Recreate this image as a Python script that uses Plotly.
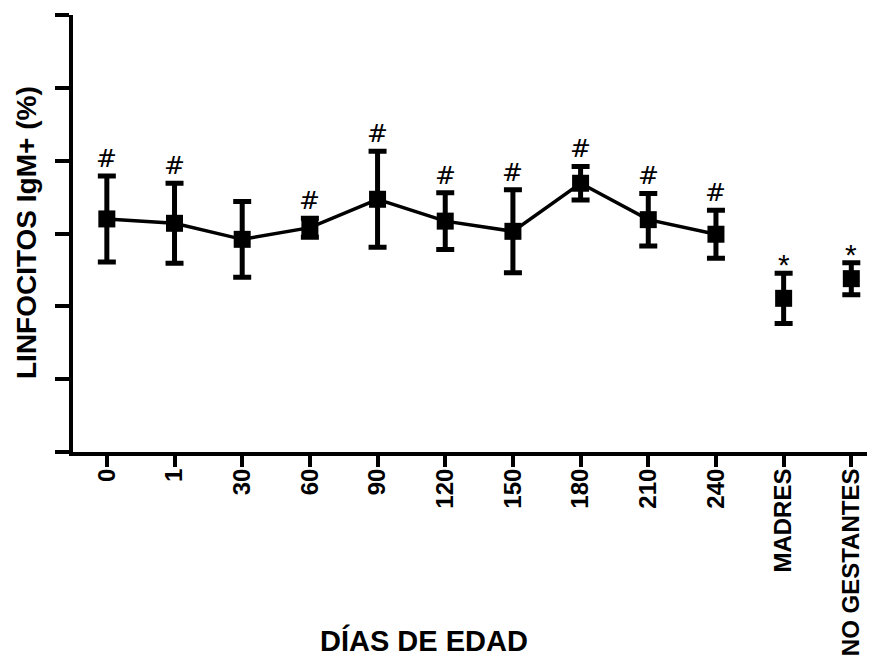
import plotly.graph_objects as go

categories = ["0", "1", "30", "60", "90", "120", "150", "180", "210", "240", "MADRES", "NO GESTANTES"]
means = [32.0, 31.4, 29.2, 30.8, 34.7, 31.7, 30.3, 36.9, 31.9, 29.9, 21.1, 23.8]
errors = [5.9, 5.5, 5.2, 1.3, 6.6, 3.9, 5.7, 2.3, 3.6, 3.3, 3.45, 2.2]
marks = ["#", "#", "", "#", "#", "#", "#", "#", "#", "#", "*", "*"]
n_connected = 10

y_ticks = [0, 10, 20, 30, 40, 50, 60]

FONT = "Liberation Sans, Arial, sans-serif"

fig = go.Figure()
fig.add_trace(go.Scatter(
    x=categories[:n_connected], y=means[:n_connected],
    mode="lines+markers",
    line=dict(color="black", width=3.5),
    marker=dict(symbol="square", size=17, color="black"),
    error_y=dict(type="data", array=errors[:n_connected], visible=True,
                 color="black", thickness=5, width=9),
    showlegend=False,
))
fig.add_trace(go.Scatter(
    x=categories[n_connected:], y=means[n_connected:],
    mode="markers",
    marker=dict(symbol="square", size=17, color="black"),
    error_y=dict(type="data", array=errors[n_connected:], visible=True,
                 color="black", thickness=5, width=9),
    showlegend=False,
))

for i, (m, e, s) in enumerate(zip(means, errors, marks)):
    if not s:
        continue
    fig.add_annotation(
        x=i, y=m + e, text=s, showarrow=False,
        yanchor="bottom", xanchor="center",
        yshift=(1 if s == "#" else -10),
        font=dict(family=("DejaVu Sans" if s == "#" else FONT),
                  size=25 if s == "#" else 30, color="black"),
    )

# axis titles
fig.add_annotation(
    xref="paper", yref="paper", x=(424 - 73) / 802, y=(452 - 640) / 437,
    text="<b>DÍAS DE EDAD</b>", showarrow=False,
    xanchor="center", yanchor="middle",
    font=dict(family=FONT, size=29, color="black"),
)
fig.add_annotation(
    xref="paper", yref="paper", x=(27 - 73) / 802, y=(452 - 233) / 437,
    text="<b>LINFOCITOS IgM+ (%)</b>", showarrow=False, textangle=-90,
    xanchor="center", yanchor="middle",
    font=dict(family=FONT, size=28, color="black"),
)

fig.update_layout(
    width=867, height=654,
    margin=dict(l=65, r=0, t=7, b=210),
    paper_bgcolor="white", plot_bgcolor="white",
    xaxis=dict(
        type="category", categoryorder="array", categoryarray=categories,
        range=[-0.5, 11.35], automargin=False,
        showline=True, linecolor="black", linewidth=4,
        ticks="outside", ticklen=11, tickwidth=4, tickcolor="black",
        tickangle=-90, showgrid=False, zeroline=False,
        ticklabelstandoff=-8,
        tickfont=dict(family=FONT, size=24, color="black", weight="bold"),
    ),
    yaxis=dict(
        range=[0, 60], tickvals=y_ticks, showticklabels=False, automargin=False,
        showline=True, linecolor="black", linewidth=4,
        ticks="outside", ticklen=14, tickwidth=4, tickcolor="black",
        showgrid=False, zeroline=False,
    ),
)

fig.write_html("out.html")
